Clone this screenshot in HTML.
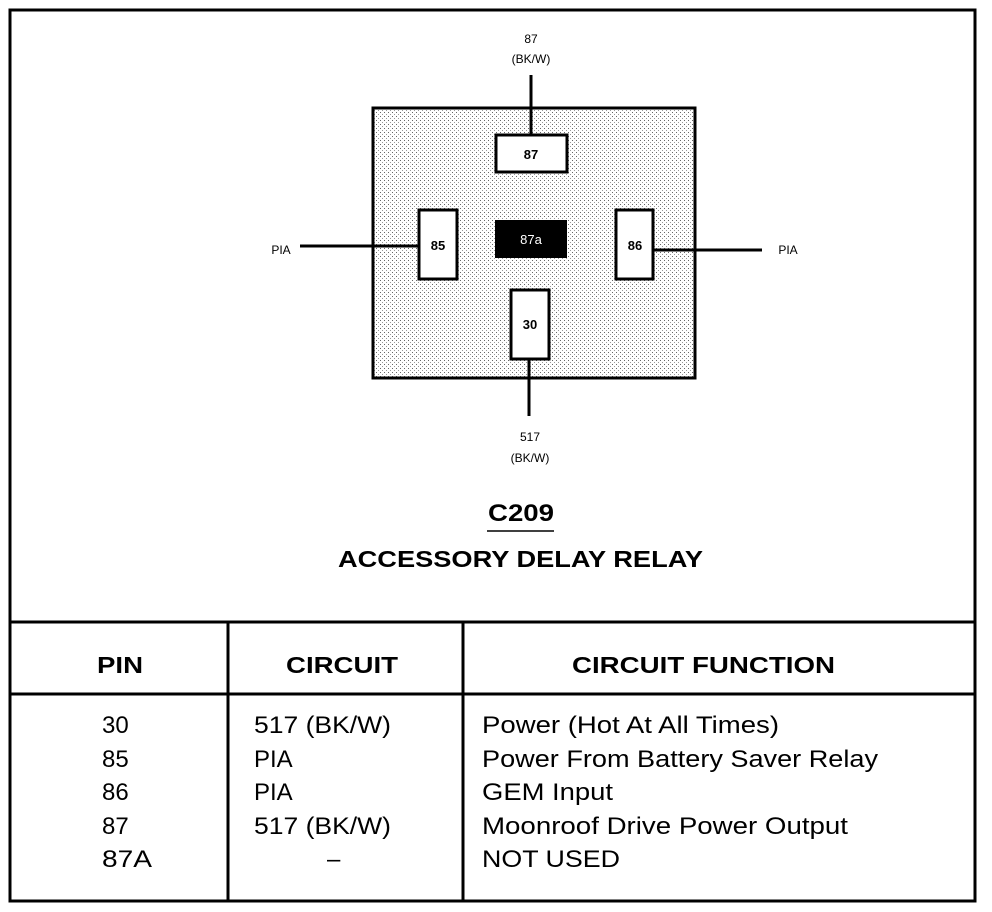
<!DOCTYPE html>
<html><head><style>
html,body{margin:0;padding:0;background:#fff;}
svg{display:block;}
text{font-family:"Liberation Sans",Arial,sans-serif;fill:#000;}
</style></head><body>
<svg width="992" height="912" viewBox="0 0 992 912" xmlns="http://www.w3.org/2000/svg">
<defs>
<pattern id="dots" width="4" height="4" patternUnits="userSpaceOnUse">
<rect width="4" height="4" fill="#fff"/>
<rect x="0" y="0" width="1" height="1" fill="#666"/>
<rect x="2" y="2" width="1" height="1" fill="#999"/>
</pattern>
</defs>
<rect x="10" y="10" width="965" height="891" fill="none" stroke="#000" stroke-width="3"/>
<line x1="10" y1="622" x2="975" y2="622" stroke="#000" stroke-width="3"/>
<line x1="10" y1="694" x2="975" y2="694" stroke="#000" stroke-width="3"/>
<line x1="228" y1="622" x2="228" y2="901" stroke="#000" stroke-width="3"/>
<line x1="463" y1="622" x2="463" y2="901" stroke="#000" stroke-width="3"/>

<rect x="373" y="108" width="322" height="270" fill="url(#dots)" stroke="#000" stroke-width="3"/>
<line x1="531" y1="75" x2="531" y2="135" stroke="#000" stroke-width="3"/>
<line x1="529" y1="358" x2="529" y2="416" stroke="#000" stroke-width="3"/>
<line x1="300" y1="246" x2="419" y2="246" stroke="#000" stroke-width="3"/>
<line x1="653" y1="250" x2="762" y2="250" stroke="#000" stroke-width="3"/>
<rect x="496" y="135" width="71" height="37" fill="#fff" stroke="#000" stroke-width="3"/>
<rect x="419" y="210" width="38" height="69" fill="#fff" stroke="#000" stroke-width="3"/>
<rect x="495" y="220" width="72" height="38" fill="#000"/>
<rect x="616" y="210" width="37" height="69" fill="#fff" stroke="#000" stroke-width="3"/>
<rect x="511" y="290" width="38" height="69" fill="#fff" stroke="#000" stroke-width="3"/>
<text x="531" y="159" font-size="13" text-anchor="middle" font-weight="bold">87</text>
<text x="438" y="250" font-size="13" text-anchor="middle" font-weight="bold">85</text>
<text x="531" y="244" font-size="13" text-anchor="middle" style="fill:#fff">87a</text>
<text x="635" y="250" font-size="13" text-anchor="middle" font-weight="bold">86</text>
<text x="530" y="329" font-size="13" text-anchor="middle" font-weight="bold">30</text>

<text x="531" y="43" font-size="12" text-anchor="middle">87</text>
<text x="531" y="63" font-size="12" text-anchor="middle">(BK/W)</text>
<text x="530" y="441" font-size="12" text-anchor="middle">517</text>
<text x="530" y="462" font-size="12" text-anchor="middle">(BK/W)</text>
<text x="281" y="254" font-size="12" text-anchor="middle">PIA</text>
<text x="788" y="254" font-size="12" text-anchor="middle">PIA</text>

<text x="488" y="521" font-size="24" font-weight="bold" textLength="66" lengthAdjust="spacingAndGlyphs">C209</text>
<line x1="487" y1="531" x2="554" y2="531" stroke="#000" stroke-width="1.5"/>
<text x="338" y="567" font-size="23" font-weight="bold" textLength="365" lengthAdjust="spacingAndGlyphs">ACCESSORY DELAY RELAY</text>

<text x="97" y="673" font-size="23" font-weight="bold" textLength="46" lengthAdjust="spacingAndGlyphs">PIN</text>
<text x="286" y="673" font-size="23" font-weight="bold" textLength="112" lengthAdjust="spacingAndGlyphs">CIRCUIT</text>
<text x="572" y="673" font-size="23" font-weight="bold" textLength="263" lengthAdjust="spacingAndGlyphs">CIRCUIT FUNCTION</text>

<g font-size="24">
<text x="102" y="733">30</text>
<text x="102" y="767">85</text>
<text x="102" y="800">86</text>
<text x="102" y="834">87</text>
<text x="102" y="867" textLength="50" lengthAdjust="spacingAndGlyphs">87A</text>
<text x="254" y="733" textLength="137" lengthAdjust="spacingAndGlyphs">517 (BK/W)</text>
<text x="254" y="767">PIA</text>
<text x="254" y="800">PIA</text>
<text x="254" y="834" textLength="137" lengthAdjust="spacingAndGlyphs">517 (BK/W)</text>
<text x="327" y="867">–</text>
<text x="482" y="733" textLength="297" lengthAdjust="spacingAndGlyphs">Power (Hot At All Times)</text>
<text x="482" y="767" textLength="396" lengthAdjust="spacingAndGlyphs">Power From Battery Saver Relay</text>
<text x="482" y="800" textLength="131" lengthAdjust="spacingAndGlyphs">GEM Input</text>
<text x="482" y="834" textLength="366" lengthAdjust="spacingAndGlyphs">Moonroof Drive Power Output</text>
<text x="482" y="867" textLength="138" lengthAdjust="spacingAndGlyphs">NOT USED</text>
</g>
</svg>
</body></html>
